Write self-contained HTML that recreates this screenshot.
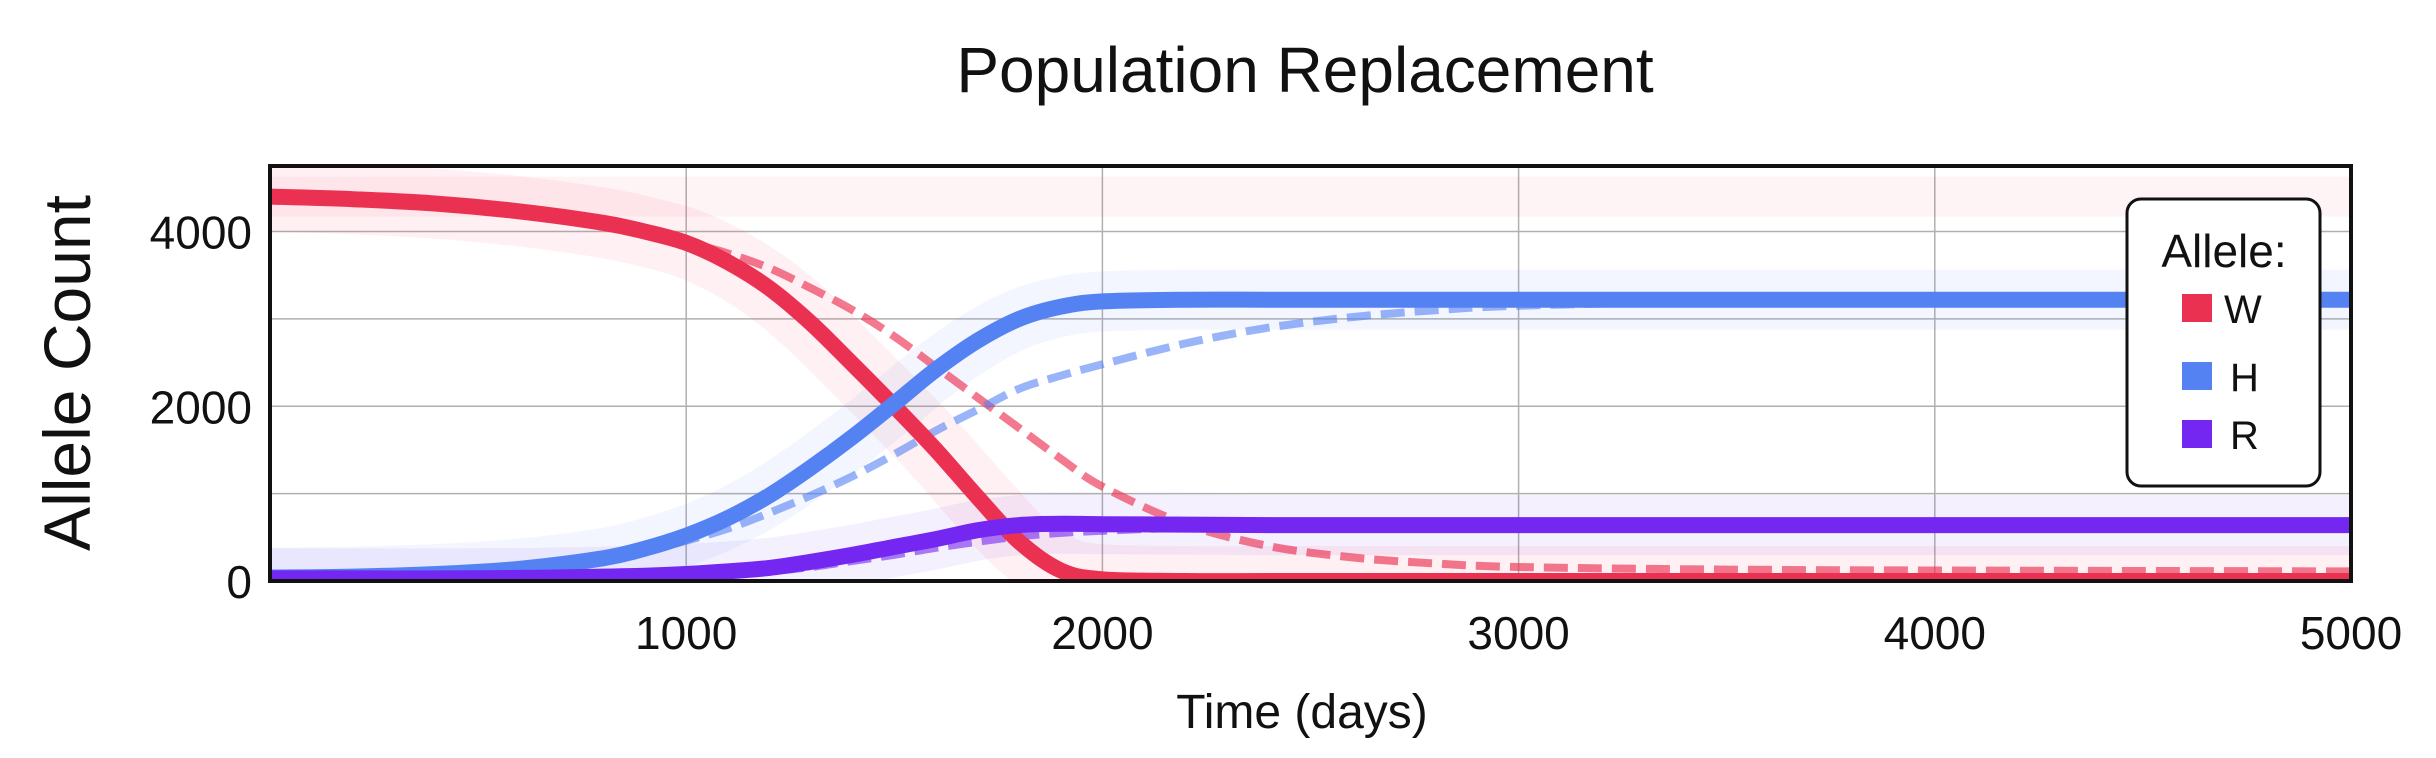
<!DOCTYPE html>
<html><head><meta charset="utf-8">
<style>
html,body{margin:0;padding:0;background:#fff;}
svg{display:block;font-family:"Liberation Sans",sans-serif;}
</style></head>
<body>
<svg id="chart" width="2436" height="758" viewBox="0 0 2436 758">
  <defs><clipPath id="plotclip"><rect x="270" y="166" width="2081" height="415"/></clipPath></defs>
  <text x="1305" y="92" font-size="64" text-anchor="middle" fill="#111">Population Replacement</text>
  <g id="grid"></g>
  <g id="traces" clip-path="url(#plotclip)"></g>
  <g id="series" clip-path="url(#plotclip)"></g>
  <rect x="270" y="166" width="2081" height="415" fill="none" stroke="#111" stroke-width="4"/>
  <g id="yticks"></g>
  <g id="xticks"></g>
  <text transform="translate(90,373) rotate(-90)" font-size="66" text-anchor="middle" fill="#111">Allele Count</text>
  <text x="1302" y="728" font-size="48" text-anchor="middle" fill="#111">Time (days)</text>
  <g>
    <rect x="2127" y="199" width="193" height="287" rx="14" fill="#fff" stroke="#111" stroke-width="3"/>
    <text x="2224" y="267" font-size="46" text-anchor="middle" fill="#111">Allele:</text>
    <rect x="2182" y="294" width="30" height="28" fill="#eb3152"/>
    <text x="2224" y="323" font-size="40" fill="#111">W</text>
    <rect x="2182" y="362" width="30" height="28" fill="#5582f3"/>
    <text x="2230" y="391" font-size="40" fill="#111">H</text>
    <rect x="2182" y="420" width="30" height="28" fill="#7327f0"/>
    <text x="2230" y="449" font-size="40" fill="#111">R</text>
  </g>
</svg>
<script>
const days = [0,200,400,600,800,900,1000,1100,1200,1300,1400,1500,1600,1700,1800,1900,2000,2200,2400,2600,2800,3000,3500,4000,4500,5000];
const wSolid = [4400,4370,4320,4230,4100,4000,3870,3650,3350,2950,2480,2000,1500,960,450,120,20,0,0,0,0,0,0,0,0,0];
const wDashed = [4400,4370,4320,4230,4100,4000,3880,3750,3580,3350,3100,2800,2450,2100,1750,1400,1080,650,400,270,200,160,130,120,115,110];
const hSolid = [40,50,80,140,260,370,520,720,980,1300,1650,2030,2420,2750,3000,3140,3200,3220,3220,3220,3220,3220,3220,3220,3220,3220];
const hDashed = [40,50,80,140,250,340,460,600,780,980,1200,1450,1720,1960,2200,2350,2480,2720,2900,3020,3100,3150,3200,3210,3220,3220];
const rSolid = [30,30,30,35,50,60,80,110,150,220,300,390,480,580,640,655,650,645,640,640,640,640,640,640,640,640];
const rDashed = [30,30,30,30,40,50,60,80,110,160,230,300,380,450,510,550,575,610,625,635,640,640,640,640,640,640];
const wRemnant = [4400,4400,4400,4400,4400,4400,4400,4400,4400,4400,4400,4400,4400,4400,4400,4400,4400,4400,4400,4400,4400,4400,4400,4400,4400,4400];
const xTicks = [1000,2000,3000,4000,5000];
const yTicks = [0,2000,4000];
const yGrid = [1000,2000,3000,4000];

const L=270,R=2351,T=166,B=581,XMAX=5000,YMAX=4750;
const sx=v=>L+(v/XMAX)*(R-L);
const sy=v=>B-(v/YMAX)*(B-T);
const NS="http://www.w3.org/2000/svg";
function mk(tag,parent,attrs){const e=document.createElementNS(NS,tag);for(const k in attrs)e.setAttribute(k,attrs[k]);parent.appendChild(e);return e;}
const grid=document.getElementById('grid');
yGrid.forEach(v=>{
  const l=mk('line',grid,{x1:L,x2:R,y1:sy(v),y2:sy(v),stroke:'#b0b0b0','stroke-width':1.5});
  
  
});
xTicks.forEach(v=>{
  const l=mk('line',grid,{x1:sx(v),x2:sx(v),y1:T,y2:B,stroke:'#b0b0b0','stroke-width':1.5});
  
  
});
const yt=document.getElementById('yticks');
yTicks.forEach(v=>{
  const t=mk('text',yt,{x:L-18,y:sy(v)+17,'font-size':46,'text-anchor':'end',fill:'#111'});
  t.textContent=v;
  
  
});
const xt=document.getElementById('xticks');
xTicks.forEach(v=>{
  const t=mk('text',xt,{x:sx(v),y:B+68,'font-size':46,'text-anchor':'middle',fill:'#111'});
  t.textContent=v;
  
  
});
function path(arr){
  const p=arr.map((v,i)=>[sx(days[i]),sy(v)]);
  let d='M'+p[0][0].toFixed(1)+','+p[0][1].toFixed(1);
  for(let i=0;i<p.length-1;i++){
    const p0=p[Math.max(0,i-1)],p1=p[i],p2=p[i+1],p3=p[Math.min(p.length-1,i+2)];
    const c1=[p1[0]+(p2[0]-p0[0])/6,p1[1]+(p2[1]-p0[1])/6];
    const c2=[p2[0]-(p3[0]-p1[0])/6,p2[1]-(p3[1]-p1[1])/6];
    d+=' C'+c1.map(n=>n.toFixed(1)).join(',')+' '+c2.map(n=>n.toFixed(1)).join(',')+' '+p2[0].toFixed(1)+','+p2[1].toFixed(1);
  }
  return d;
}
const tr=document.getElementById('traces');
[[wSolid,'#eb3152',70,0.07],[hSolid,'#5582f3',60,0.07],[rSolid,'#7327f0',60,0.07],[wRemnant,'#eb3152',40,0.05]].forEach(([a,c,w,o])=>{
  const p=mk('path',tr,{d:path(a),fill:'none',stroke:c,'stroke-opacity':o,'stroke-width':w,'stroke-linejoin':'round'});
  
  
});
const sg=document.getElementById('series');
const defs=[
  [wDashed,'#eb3152',0.65,8,'24 10','w-dashed-line'],
  [hDashed,'#5582f3',0.6,8,'24 10','h-dashed-line'],
  [rDashed,'#7327f0',0.6,8,'24 10','r-dashed-line'],
  [wSolid,'#eb3152',1,16,'','w-mean-line'],
  [hSolid,'#5582f3',1,16,'','h-mean-line'],
  [rSolid,'#7327f0',1,16,'','r-mean-line']];
defs.forEach(([a,c,o,w,d,n])=>{
  const p=mk('path',sg,{d:path(a),fill:'none',stroke:c,'stroke-opacity':o,'stroke-width':w,'stroke-linejoin':'round'});
  if(d)p.setAttribute('stroke-dasharray',d);
  
  
});
</script>
</body></html>
